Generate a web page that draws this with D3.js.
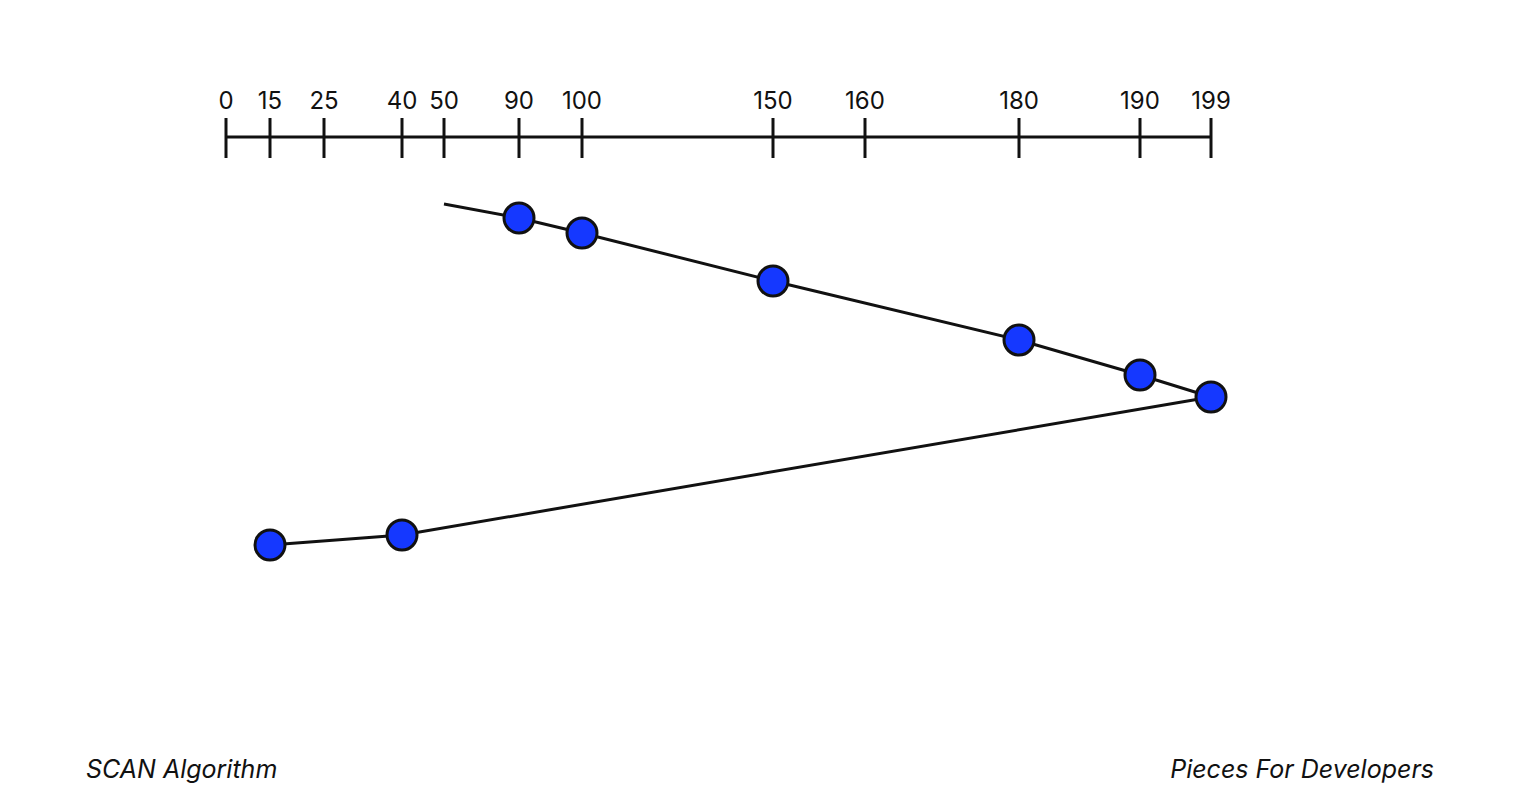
<!DOCTYPE html>
<html>
<head>
<meta charset="utf-8">
<script src="https://cdn.jsdelivr.net/npm/d3@7"></script>
<style>
  body { margin: 0; background: #fff; }
  text { font-family: Inter, "Open Sans", sans-serif; fill: #111; }
</style>
</head>
<body>
<div class="chart"></div>
<script>
// cylinder tick labels along the top track
var ticks = [0, 15, 25, 40, 50, 90, 100, 150, 160, 180, 190, 199];
// head visits in order (starting at 50)
var visits = [50, 90, 100, 150, 180, 190, 199, 40, 15];
// elapsed seek steps
var elapsed = [0, 14, 29, 77, 136, 171, 193, 331, 341];

var width = 1520, height = 798;

var svg = d3.select('.chart').append('svg')
    .attr('width', width)
    .attr('height', height);

// the drawing spaces the ticks unevenly, so use a piecewise scale
var x = d3.scaleLinear()
    .domain(ticks)
    .range([226, 270, 324, 402, 444, 519, 582, 773, 865, 1019, 1140, 1211]);

var y = d3.scaleLinear()
    .domain([0, 341])
    .range([204, 545]);

var axis = svg.append('g').attr('transform', 'translate(0,137)');
axis.append('line')
    .attr('x1', x(0)).attr('x2', x(199))
    .attr('stroke', '#111').attr('stroke-width', 3);
axis.selectAll('.tick').data(ticks).enter().append('line')
    .attr('x1', function (d) { return x(d); })
    .attr('x2', function (d) { return x(d); })
    .attr('y1', -19).attr('y2', 21)
    .attr('stroke', '#111').attr('stroke-width', 3);
axis.selectAll('text').data(ticks).enter().append('text')
    .attr('x', function (d) { return x(d); })
    .attr('y', -28)
    .attr('text-anchor', 'middle')
    .attr('font-size', 24)
    .text(function (d) { return d; });

var pts = visits.map(function (v, i) { return { v: v, t: elapsed[i] }; });

var line = d3.line()
    .x(function (d) { return x(d.v); })
    .y(function (d) { return y(d.t); });

svg.append('path')
    .datum(pts)
    .attr('d', line)
    .attr('fill', 'none')
    .attr('stroke', '#111')
    .attr('stroke-width', 3);

svg.selectAll('circle').data(pts.slice(1)).enter().append('circle')
    .attr('cx', function (d) { return x(d.v); })
    .attr('cy', function (d) { return y(d.t); })
    .attr('r', 15)
    .attr('fill', '#1538ff')
    .attr('stroke', '#111')
    .attr('stroke-width', 3);

svg.append('text')
    .attr('x', 86).attr('y', 778)
    .attr('font-size', 25).attr('font-style', 'italic')
    .text('SCAN Algorithm');
svg.append('text')
    .attr('x', 1434).attr('y', 778)
    .attr('text-anchor', 'end')
    .attr('font-size', 25).attr('font-style', 'italic')
    .text('Pieces For Developers');
</script>
</body>
</html>
